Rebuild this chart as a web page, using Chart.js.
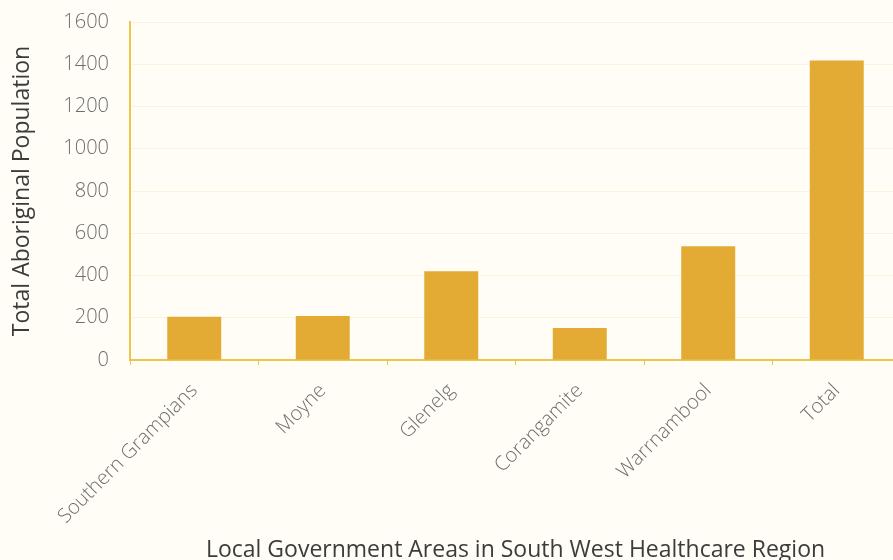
<!DOCTYPE html>
<html>
<head>
<meta charset="utf-8">
<script src="https://cdn.jsdelivr.net/npm/chart.js@4.4.0/dist/chart.umd.min.js"></script>
<style>
  html, body { margin: 0; padding: 0; background: #fffdf6; overflow: hidden; }
  #wrap { width: 910px; height: 560px; position: relative; }
</style>
</head>
<body>
<div id="wrap"><canvas id="chart"></canvas></div>
<script>
const areas = ['Southern Grampians', 'Moyne', 'Glenelg', 'Corangamite', 'Warrnambool', 'Total'];
const population = [205, 208, 420, 152, 538, 1418];
const yTicks = [0, 200, 400, 600, 800, 1000, 1200, 1400, 1600];

const textColor = '#6e6e6e';
const axisGold = '#ebc64a';
const barGold = '#e3aa34';
const fontFamily = '"Open Sans", "Noto Sans", sans-serif';

const ctx = document.getElementById('chart').getContext('2d');
new Chart(ctx, {
  type: 'bar',
  data: {
    labels: areas,
    datasets: [{
      data: population,
      backgroundColor: barGold,
      borderWidth: 0,
      barPercentage: 0.42,
      categoryPercentage: 1
    }]
  },
  options: {
    responsive: true,
    maintainAspectRatio: false,
    animation: false,
    layout: { padding: { top: 22, right: 9, left: 0, bottom: 0 } },
    plugins: { legend: { display: false }, tooltip: { enabled: false } },
    scales: {
      x: {
        grid: {
          display: true,
          drawOnChartArea: false,
          drawTicks: true,
          tickLength: 5,
          color: axisGold,
          lineWidth: 1
        },
        border: { color: axisGold, width: 2 },
        ticks: {
          color: textColor,
          font: { family: fontFamily, size: 20, weight: 300 },
          maxRotation: 45,
          minRotation: 45,
          padding: 14
        },
        title: {
          display: true,
          text: 'Local Government Areas in South West Healthcare Region',
          color: '#3c3c3c',
          font: { family: fontFamily, size: 23, lineHeight: 0.8 },
          padding: { top: 0, bottom: 0 }
        },
        afterFit: scale => { scale.height = 200; }
      },
      y: {
        min: 0,
        max: 1600,
        afterBuildTicks: scale => { scale.ticks = yTicks.map(v => ({ value: v })); },
        grid: {
          color: 'rgba(240, 225, 170, 0.3)',
          drawTicks: false
        },
        border: { color: axisGold, width: 2 },
        ticks: {
          color: textColor,
          font: { family: fontFamily, size: 20, weight: 300 },
          padding: 21,
          callback: v => String(v)
        },
        title: {
          display: true,
          text: 'Total Aboriginal Population',
          color: '#3c3c3c',
          font: { family: fontFamily, size: 23 },
          padding: { top: 9, bottom: 0 }
        },
        afterFit: scale => {
          scale.width = 130;
          scale.paddingTop = 0;
          scale.paddingBottom = 0;
        }
      }
    }
  }
});
</script>
</body>
</html>
